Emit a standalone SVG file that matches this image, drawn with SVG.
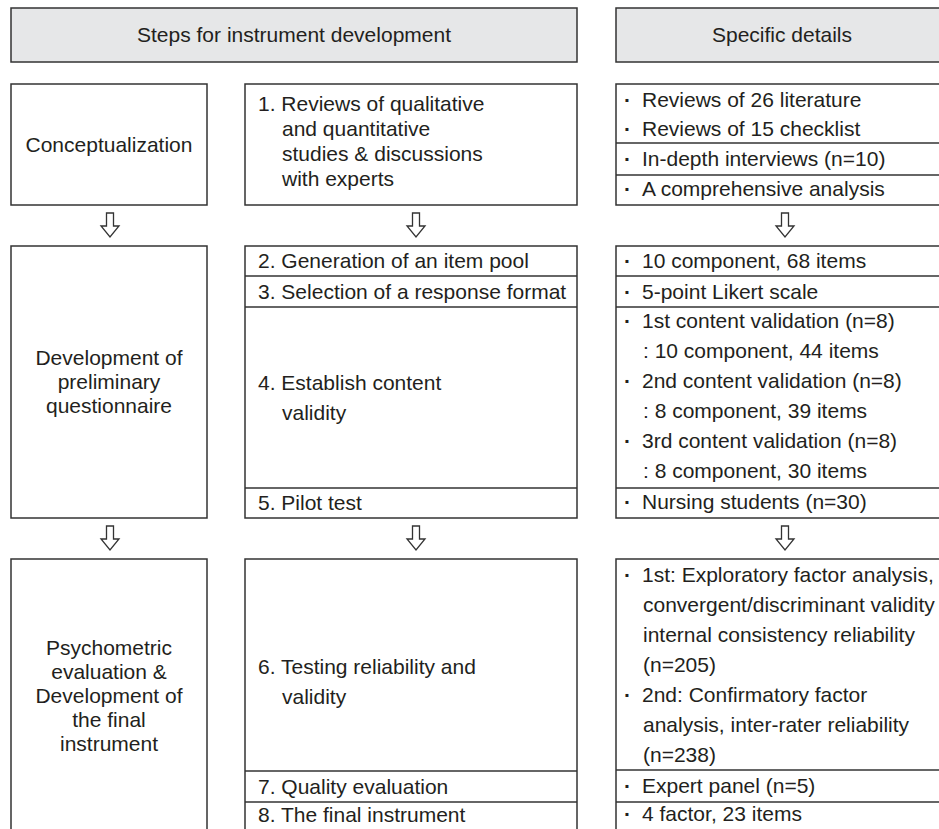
<svg xmlns="http://www.w3.org/2000/svg" width="939" height="829" viewBox="0 0 939 829">
<style>
.box{fill:#fff;stroke:#333;stroke-width:1.5}
.hdr{fill:#e6e7e8;stroke:#333;stroke-width:1.5}
.div{stroke:#333;stroke-width:1.5}
.arr{fill:#fff;stroke:#333;stroke-width:1.3;stroke-linejoin:miter}
text{font-family:"Liberation Sans",Arial,sans-serif;font-size:21px;fill:#231f20}
.c{text-anchor:middle}
.b{font-weight:bold}
</style>
<defs>
<path id="dn" d="M-3.5,0 H3.5 V13 H9 L0,24 L-9,13 H-3.5 Z"/>
</defs>
<rect width="939" height="829" fill="#fff"/>

<g id="header-steps">
<rect class="hdr" x="11" y="8" width="566" height="54"/>
<text class="c" x="294" y="42">Steps for instrument development</text>
</g>
<g id="header-details">
<rect class="hdr" x="616" y="8" width="340" height="54"/>
<text class="c" x="782" y="42">Specific details</text>
</g>

<g id="stage-conceptualization">
<rect class="box" x="11" y="84" width="196" height="121"/>
<text class="c" x="109" y="152">Conceptualization</text>
</g>
<g id="stage-preliminary">
<rect class="box" x="11" y="246" width="196" height="272"/>
<text class="c" x="109" y="365">Development of</text>
<text class="c" x="109" y="389">preliminary</text>
<text class="c" x="109" y="413">questionnaire</text>
</g>
<g id="stage-psychometric">
<rect class="box" x="11" y="559" width="196" height="290"/>
<text class="c" x="109" y="655">Psychometric</text>
<text class="c" x="109" y="679">evaluation &amp;</text>
<text class="c" x="109" y="703">Development of</text>
<text class="c" x="109" y="727">the final</text>
<text class="c" x="109" y="751">instrument</text>
</g>

<g id="step-1">
<rect class="box" x="245" y="84" width="332" height="121"/>
<text x="258" y="111">1. Reviews of qualitative</text>
<text x="282" y="136">and quantitative</text>
<text x="282" y="161">studies &amp; discussions</text>
<text x="282" y="186">with experts</text>
</g>
<g id="steps-2-5">
<rect class="box" x="245" y="246" width="332" height="272"/>
<line class="div" x1="245" y1="276" x2="577" y2="276"/>
<line class="div" x1="245" y1="307" x2="577" y2="307"/>
<line class="div" x1="245" y1="488" x2="577" y2="488"/>
<text x="258" y="268">2. Generation of an item pool</text>
<text x="258" y="299">3. Selection of a response format</text>
<text x="258" y="390">4. Establish content</text>
<text x="282" y="420">validity</text>
<text x="258" y="510">5. Pilot test</text>
</g>
<g id="steps-6-8">
<rect class="box" x="245" y="559" width="332" height="290"/>
<line class="div" x1="245" y1="771" x2="577" y2="771"/>
<line class="div" x1="245" y1="802" x2="577" y2="802"/>
<text x="258" y="674">6. Testing reliability and</text>
<text x="282" y="704">validity</text>
<text x="258" y="794">7. Quality evaluation</text>
<text x="258" y="822">8. The final instrument</text>
</g>

<g id="details-1">
<rect class="box" x="616" y="84" width="340" height="121"/>
<line class="div" x1="616" y1="143" x2="956" y2="143"/>
<line class="div" x1="616" y1="175" x2="956" y2="175"/>
<text y="107"><tspan class="b" x="624">·</tspan><tspan x="642">Reviews of 26 literature</tspan></text>
<text y="136"><tspan class="b" x="624">·</tspan><tspan x="642">Reviews of 15 checklist</tspan></text>
<text y="166"><tspan class="b" x="624">·</tspan><tspan x="642">In-depth interviews (n=10)</tspan></text>
<text y="196"><tspan class="b" x="624">·</tspan><tspan x="642">A comprehensive analysis</tspan></text>
</g>
<g id="details-2">
<rect class="box" x="616" y="246" width="340" height="272"/>
<line class="div" x1="616" y1="276" x2="956" y2="276"/>
<line class="div" x1="616" y1="307" x2="956" y2="307"/>
<line class="div" x1="616" y1="488" x2="956" y2="488"/>
<text y="268"><tspan class="b" x="624">·</tspan><tspan x="642">10 component, 68 items</tspan></text>
<text y="299"><tspan class="b" x="624">·</tspan><tspan x="642">5-point Likert scale</tspan></text>
<text y="328"><tspan class="b" x="624">·</tspan><tspan x="642">1st content validation (n=8)</tspan></text>
<text x="643" y="358">: 10 component, 44 items</text>
<text y="388"><tspan class="b" x="624">·</tspan><tspan x="642">2nd content validation (n=8)</tspan></text>
<text x="643" y="418">: 8 component, 39 items</text>
<text y="448"><tspan class="b" x="624">·</tspan><tspan x="642">3rd content validation (n=8)</tspan></text>
<text x="643" y="478">: 8 component, 30 items</text>
<text y="509"><tspan class="b" x="624">·</tspan><tspan x="642">Nursing students (n=30)</tspan></text>
</g>
<g id="details-3">
<rect class="box" x="616" y="559" width="340" height="290"/>
<line class="div" x1="616" y1="770" x2="956" y2="770"/>
<line class="div" x1="616" y1="802" x2="956" y2="802"/>
<text y="582"><tspan class="b" x="624">·</tspan><tspan x="642">1st: Exploratory factor analysis,</tspan></text>
<text x="643" y="612">convergent/discriminant validity</text>
<text x="643" y="642">internal consistency reliability</text>
<text x="643" y="672">(n=205)</text>
<text y="702"><tspan class="b" x="624">·</tspan><tspan x="642">2nd: Confirmatory factor</tspan></text>
<text x="643" y="732">analysis, inter-rater reliability</text>
<text x="643" y="762">(n=238)</text>
<text y="793"><tspan class="b" x="624">·</tspan><tspan x="642">Expert panel (n=5)</tspan></text>
<text y="821"><tspan class="b" x="624">·</tspan><tspan x="642">4 factor, 23 items</tspan></text>
</g>

<g id="connectors">
<use href="#dn" class="arr" x="110" y="213"/>
<use href="#dn" class="arr" x="416" y="213"/>
<use href="#dn" class="arr" x="785" y="213"/>
<use href="#dn" class="arr" x="110" y="526"/>
<use href="#dn" class="arr" x="416" y="526"/>
<use href="#dn" class="arr" x="785" y="526"/>
</g>
</svg>
